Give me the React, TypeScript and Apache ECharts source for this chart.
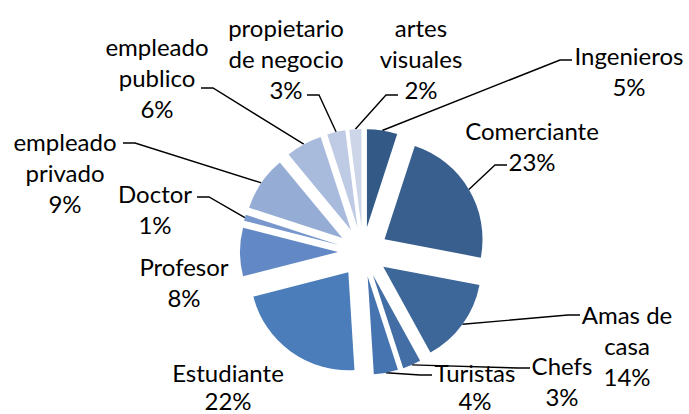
import React, { useEffect, useRef } from 'react';
import * as echarts from 'echarts';

const categories = [
  'Ingenieros', 'Comerciante', 'Amas de casa', 'Chefs', 'Turistas', 'Estudiante',
  'Profesor', 'Doctor', 'empleado privado', 'empleado publico', 'propietario de negocio', 'artes visuales',
];
const values = [5, 23, 14, 3, 4, 22, 8, 1, 9, 6, 3, 2];
const labelTexts = [
  'Ingenieros', 'Comerciante', 'Amas de\ncasa', 'Chefs', 'Turistas', 'Estudiante',
  'Profesor', 'Doctor', 'empleado\nprivado', 'empleado\npublico', 'propietario\nde negocio', 'artes\nvisuales',
];
const colors = [
  '#335a87', '#385f8e', '#3d6699', '#426ea5', '#4674b0', '#4b7dbb',
  '#6289c5', '#7898cd', '#95add5', '#a9bbdc', '#bfcbe4', '#cdd6e9',
];

// layout (positions/styles, not data)
const CX = 363, CY = 252, R = 98, OFFSET = 25;
const labelCenters: number[][] = [
  [629, 71], [532, 146], [627, 345], [562, 381], [475, 386], [228, 386],
  [184, 282], [155, 209], [65, 172], [157, 77], [286, 58], [421, 58],
];
const labelLineHeights = [31, 31, 31, 31, 28, 28, 31, 31, 31, 31, 31, 31];
const lineAttach: (number[] | null)[] = [
  [-57, -11], [-25, 19], [-47, -30], [-32, -13], [-43, -11], null,
  null, [42, -12], [58, -29], [44, 11], [21, 37], [-23, 37],
];

export default function App() {
  const ref = useRef<HTMLDivElement>(null);
  useEffect(() => {
    if (!ref.current) return;
    const chart = echarts.init(ref.current, undefined, { renderer: 'svg' });
    const total = values.reduce((a, b) => a + b, 0);
    const cum: number[] = [];
    let acc = 0;
    values.forEach((v) => { cum.push(acc); acc += v; });

    const common = {
      type: 'pie',
      center: [CX, CY],
      radius: [0, R],
      startAngle: 90,
      clockwise: true,
      avoidLabelOverlap: false,
      emphasis: { disabled: true },
    };

    chart.setOption({
      animation: false,
      series: [
        {
          ...common,
          name: 'slices',
          selectedMode: 'multiple',
          selectedOffset: OFFSET,
          label: { show: false },
          labelLine: { show: false },
          data: categories.map((name, i) => ({
            name,
            value: values[i],
            selected: true,
            itemStyle: { color: colors[i] },
          })),
        },
        {
          ...common,
          name: 'labels',
          silent: true,
          selectedMode: false,
          itemStyle: { color: 'rgba(0,0,0,0)' },
          label: {
            show: true,
            position: 'outside',
            fontFamily: 'Lato',
            fontSize: 24,
            lineHeight: 31,
            color: '#000',
            opacity: 1,
            align: 'center',
            formatter: (p: any) => labelTexts[p.dataIndex] + '\n' + p.value + '%',
          },
          labelLine: {
            show: true,
            length: 10,
            length2: 10,
            lineStyle: { color: '#000', width: 1.4, opacity: 1 },
          },
          labelLayout: (p: any) => {
            const i = p.dataIndex;
            const [x, y] = labelCenters[i];
            const res: any = { x, y, align: 'center', verticalAlign: 'middle' };
            const a = lineAttach[i];
            if (a) {
              const mid = ((cum[i] + values[i] / 2) / total) * 2 * Math.PI;
              const r = R + OFFSET;
              const sx = CX + r * Math.sin(mid);
              const sy = CY - r * Math.cos(mid);
              const ex = x + a[0];
              const ey = y + a[1];
              const bx = ex + (sx < ex ? -12 : 12);
              res.labelLinePoints = [[sx, sy], [bx, ey], [ex, ey]];
            }
            return res;
          },
          data: categories.map((name, i) => ({
            name,
            value: values[i],
            label: { lineHeight: labelLineHeights[i] },
            labelLine: { show: lineAttach[i] !== null },
          })),
        },
      ],
    });
    return () => chart.dispose();
  }, []);
  return (
    <div
      ref={ref}
      style={{ position: 'absolute', left: 0, top: 0, width: 689, height: 414, background: '#fff' }}
    />
  );
}
